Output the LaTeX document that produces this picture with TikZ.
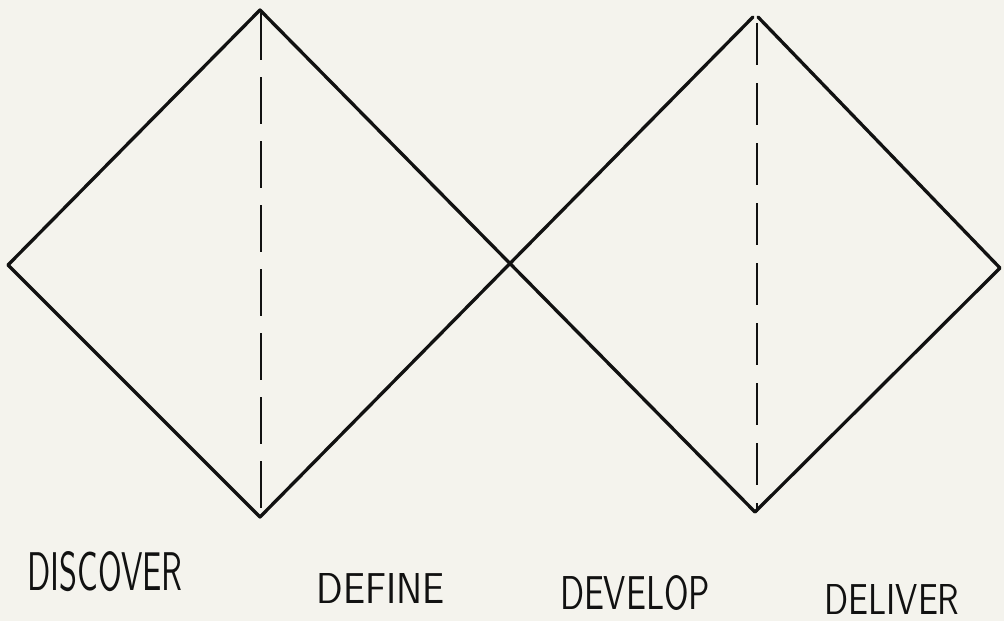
\documentclass[tikz,border=0pt]{standalone}
\usepackage{graphicx}
\definecolor{bg}{HTML}{F4F3ED}
\definecolor{ink}{HTML}{111111}
\tikzset{
  edge/.style={draw=ink,line width=3.3pt,line cap=round,line join=round},
  divider/.style={draw=ink,line width=2.5pt,dash pattern=on 47 off 17},
  label/.style={inner sep=0pt,text=ink,font=\sffamily}
}
\newcommand{\lbl}[3]{\resizebox{#1pt}{#2pt}{#3}}
\begin{document}
\begin{tikzpicture}[x=1pt,y=-1pt]
\fill[bg] (0,0) rectangle (1004,621);
\useasboundingbox (0,0) rectangle (1004,621);
% vertices
\coordinate (L) at (8,265);
\coordinate (T1) at (260,10);
\coordinate (B1) at (260,517);
\coordinate (C) at (510,263);
\coordinate (T2a) at (753,17);
\coordinate (T2b) at (758,17);
\coordinate (B2) at (755,512);
\coordinate (R) at (1000,268);
\coordinate (D1a) at (261,13);
\coordinate (D1b) at (261,517);
\coordinate (D2a) at (757,23);
\coordinate (D2b) at (757,512);
% outline
\draw[edge] (L) -- (T1) -- (B2);
\draw[edge] (L) -- (B1) -- (T2a);
\draw[edge] (T2b) -- (R) -- (B2);
% dashed dividers
\draw[divider] (D1a) -- (D1b);
\draw[divider,dash pattern=on 42 off 18] (D2a) -- (D2b);
% labels
\node[label] (discover) at (105,572) {\lbl{155}{39}{DISCOVER}};
\node[label] (define) at (381,588) {\lbl{128}{30}{DEFINE}};
\node[label] (develop) at (635,593) {\lbl{150}{34}{DEVELOP}};
\node[label] (deliver) at (892,599) {\lbl{135}{30}{DELIVER}};
\end{tikzpicture}
\end{document}
